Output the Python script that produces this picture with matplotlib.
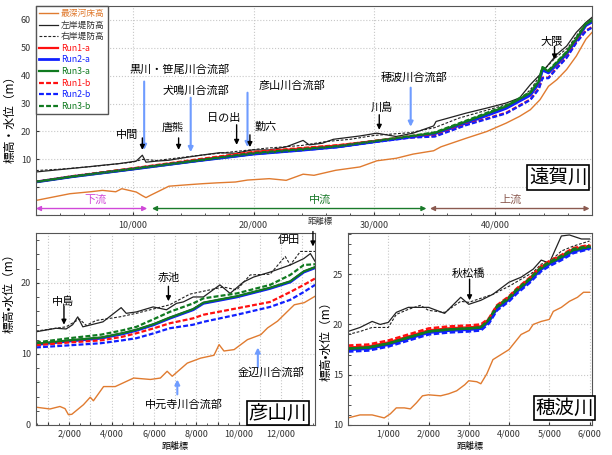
import matplotlib
matplotlib.use("Agg")
import matplotlib.pyplot as plt
from matplotlib.ticker import FuncFormatter, MultipleLocator, FixedLocator

plt.rcParams['font.family'] = ['Noto Sans CJK JP', 'DejaVu Sans']

# ---- 遠賀川 (top) ----
onga_bed_km = [2.0, 3.4, 4.8, 6.5, 7.5, 8.6, 9.1, 10.3, 10.8, 11.1, 11.5, 12.3, 13.0, 14.5, 15.8, 17.0,
               18.5, 19.5, 21.3, 22.7, 24.1, 25.0, 26.8, 28.8, 30.2, 31.8, 33.2, 34.9, 35.5, 37.6,
               39.3, 40.9, 42.0, 42.9, 43.7, 44.4, 45.1, 45.9, 46.7, 47.5, 48.0]
onga_bed = [-4.7, -3.5, -2.3, -1.6, -1.1, -1.6, -0.5, -1.7, -3.0, -3.7, -2.8, -1.1, 0.4, 0.9, 1.3, 1.6,
            1.9, 2.6, 3.1, 2.5, 4.7, 4.3, 6.1, 7.3, 9.5, 10.4, 11.9, 13.1, 14.5, 17.6,
            20.0, 23.0, 25.4, 27.8, 31.4, 36.2, 38.6, 42.2, 47.0, 53.1, 55.5]
onga_left_km = [2.0, 3.4, 4.8, 6.2, 7.5, 8.9, 10.3, 10.8, 11.1, 12.0, 13.0, 14.4, 15.8, 17.2, 18.5, 19.9,
                21.3, 22.7, 24.1, 24.6, 25.7, 26.6, 28.8, 30.2, 31.8, 33.2, 34.9, 35.1, 37.6, 39.3,
                40.9, 42.0, 42.9, 43.7, 44.4, 45.1, 45.9, 46.7, 47.5, 48.0]
onga_left = [5.5, 6.1, 6.7, 7.3, 7.9, 8.5, 9.4, 11.5, 9.0, 9.4, 9.7, 10.7, 11.6, 12.4, 12.2, 13.4,
             13.4, 14.5, 16.8, 15.2, 15.8, 17.2, 18.4, 19.4, 18.2, 19.4, 22.0, 23.6, 26.6, 28.4,
             30.2, 32.0, 36.8, 40.4, 44.0, 47.7, 50.6, 55.5, 59.1, 60.9]
onga_right_km = [2.0, 4.0, 7.0, 10.0, 10.8, 12.0, 15.0, 18.0, 21.0, 24.0, 26.0, 28.0, 30.0, 33.0, 35.0,
                 37.0, 40.0, 42.0, 43.0, 44.0, 45.0, 46.0, 47.0, 48.0]
onga_right = [6.0, 6.5, 7.6, 9.0, 10.0, 9.6, 11.2, 12.6, 14.0, 15.0, 16.4, 17.2, 18.6, 19.6, 21.4,
              24.8, 28.5, 31.0, 35.5, 42.0, 46.5, 50.0, 56.0, 60.5]
onga_run_km = [2, 5, 10, 15, 20, 24, 27, 30, 33, 35, 37.6, 40.9, 42.9, 43.6, 43.9, 44.4, 45.1, 45.9, 46.7, 47.5, 48]
onga_run1a = [2.0, 3.9, 6.7, 9.6, 12.5, 13.9, 15.0, 16.6, 18.3, 19.3, 23.2, 28.5, 33.3, 37.5, 42.3, 41.2, 44.3, 48.0, 52.8, 58.2, 59.4]
onga_run2a = [1.9, 3.8, 6.5, 9.3, 11.9, 13.3, 14.5, 16.3, 18.0, 19.2, 23.0, 28.3, 33.0, 37.2, 42.0, 41.0, 44.0, 47.8, 52.6, 58.0, 59.2]
onga_run3a = [1.9, 3.8, 6.5, 9.3, 12.0, 13.4, 14.6, 16.4, 18.2, 19.5, 23.6, 29.0, 33.8, 38.0, 42.8, 41.6, 44.7, 48.3, 53.1, 58.5, 59.7]
onga_run1b = [2.0, 4.0, 6.8, 9.8, 12.7, 14.1, 15.1, 16.6, 17.9, 18.4, 22.5, 26.7, 31.5, 35.5, 39.3, 39.3, 42.9, 46.6, 52.0, 56.2, 57.4]
onga_run2b = [1.9, 3.8, 6.5, 9.3, 11.9, 13.3, 14.4, 16.2, 17.8, 18.2, 22.3, 26.5, 31.3, 35.2, 39.1, 39.1, 42.7, 46.4, 51.8, 56.0, 57.2]
onga_run3b = [2.0, 3.9, 6.7, 9.5, 12.3, 13.7, 14.8, 16.6, 18.4, 19.7, 23.9, 29.3, 34.1, 38.3, 43.1, 41.9, 45.0, 48.6, 53.4, 58.8, 60.0]

onga_labels = ["中間", "唐熊", "日の出", "勤六", "川島", "大隈"]
onga_label_x = [10.8, 13.8, 18.6, 19.7, 30.4, 44.9]
onga_confl = ["黒川・笹尾川合流部", "犬鳴川合流部", "彦山川合流部", "穂波川合流部"]
onga_confl_x = [10.95, 14.8, 19.5, 33.0]

# ---- 彦山川 (bottom left) ----
hiko_bed_km = [0.43, 1.09, 1.56, 1.80, 1.96, 2.12, 2.67, 2.99, 3.14, 3.62, 4.17, 5.04, 5.83, 6.30, 6.62,
               6.86, 7.57, 8.20, 8.83, 9.07, 9.30, 9.78, 10.41, 11.04, 11.36, 11.83, 12.31, 12.62, 13.09, 13.6]
hiko_bed = [2.5, 2.25, 2.6, 2.3, 1.45, 1.5, 2.85, 3.9, 3.4, 5.4, 5.4, 6.6, 6.4, 6.6, 7.55,
            6.85, 8.7, 9.4, 9.8, 11.3, 10.4, 10.6, 12.0, 12.7, 13.65, 14.6, 16.0, 16.9, 17.2, 18.1]
hiko_left_km = [0.43, 1.37, 1.85, 2.16, 2.40, 2.64, 3.59, 4.45, 4.69, 5.17, 5.96, 6.59, 7.06, 7.38, 7.85,
                8.33, 9.11, 9.59, 10.22, 10.70, 11.48, 12.43, 13.07, 13.38, 13.6]
hiko_left = [13.1, 13.6, 13.5, 14.1, 15.2, 13.8, 14.5, 16.5, 15.7, 15.9, 16.6, 16.2, 17.1, 17.3, 18.0,
             18.0, 19.7, 18.5, 20.1, 20.8, 21.5, 22.5, 23.4, 24.1, 23.0]
hiko_right_km = [0.43, 1.85, 2.48, 2.8, 3.27, 4.38, 5.17, 6.74, 7.69, 9.27, 9.91, 10.54, 11.48, 12.19,
                 12.43, 12.91, 13.6]
hiko_right = [13.2, 13.8, 14.9, 14.0, 14.7, 15.2, 15.7, 16.9, 18.4, 19.4, 19.0, 21.1, 21.2, 23.7,
              22.5, 24.4, 24.4]
hiko_run_km = [0.43, 2.0, 3.5, 4.5, 5.17, 6.0, 6.74, 7.85, 8.33, 9.91, 11.48, 12.43, 13.07, 13.6]
hiko_run1a = [11.35, 11.85, 12.25, 12.85, 13.35, 14.15, 15.05, 16.25, 17.15, 18.05, 19.25, 20.15, 21.55, 22.15]
hiko_run2a = [11.3, 11.8, 12.2, 12.8, 13.3, 14.1, 15.0, 16.2, 17.1, 18.0, 19.2, 20.1, 21.5, 22.1]
hiko_run3a = [11.4, 11.9, 12.3, 12.9, 13.4, 14.2, 15.1, 16.3, 17.2, 18.1, 19.3, 20.2, 21.6, 22.2]
hiko_run1b = [11.2, 11.6, 11.9, 12.4, 12.9, 13.6, 14.3, 15.0, 15.5, 16.4, 17.3, 18.7, 19.7, 20.6]
hiko_run2b = [10.9, 11.2, 11.5, 11.9, 12.2, 12.9, 13.6, 14.1, 14.5, 15.5, 16.6, 17.6, 18.7, 19.7]
hiko_run3b = [11.6, 12.2, 12.7, 13.3, 13.8, 14.9, 15.9, 17.1, 17.8, 18.5, 19.7, 21.1, 22.5, 22.6]

# ---- 穂波川 (bottom right) ----
honami_bed_km = [0, 0.3, 0.6, 0.9, 1.05, 1.2, 1.4, 1.55, 1.7, 1.85, 2.0, 2.3, 2.5, 2.7, 2.9, 3.0, 3.2, 3.3,
                 3.45, 3.6, 3.8, 4.0, 4.1, 4.3, 4.5, 4.6, 4.8, 5.0, 5.1, 5.3, 5.5, 5.7, 5.85, 6.0]
honami_bed = [10.7, 11.0, 11.0, 10.7, 11.1, 11.7, 11.7, 11.6, 12.2, 12.9, 13.0, 12.9, 13.1, 13.4, 14.0, 14.4,
              14.3, 14.1, 15.1, 16.5, 17.0, 17.5, 18.0, 19.0, 19.4, 20.0, 20.3, 20.5, 21.3, 21.7, 22.3,
              22.7, 23.2, 23.2]
honami_left_km = [0, 0.3, 0.6, 0.8, 1.0, 1.2, 1.5, 2.0, 2.4, 2.8, 3.0, 3.3, 3.6, 4.0, 4.3, 4.6, 4.8, 5.0,
                  5.3, 5.5, 5.8, 6.0]
honami_left = [19.3, 19.7, 20.3, 20.0, 20.2, 21.2, 21.7, 21.7, 21.1, 22.7, 22.0, 22.4, 23.0, 24.2, 24.7,
               25.5, 26.4, 26.1, 28.8, 28.9, 28.5, 28.5]
honami_right_km = [0, 0.3, 0.6, 1.0, 1.2, 1.5, 1.8, 2.0, 2.4, 2.8, 3.0, 3.6, 4.0, 4.3, 4.6, 4.8, 5.0, 5.3,
                   5.6, 6.0]
honami_right = [19.0, 19.3, 19.7, 19.7, 21.0, 21.5, 21.9, 21.4, 21.2, 22.3, 22.2, 23.0, 23.8, 24.5, 25.2,
                26.0, 26.2, 27.3, 27.8, 28.3]
honami_run_km = [0, 0.5, 1.0, 1.5, 2.0, 2.5, 3.0, 3.3, 3.5, 3.7, 4.0, 4.2, 4.5, 4.8, 5.0, 5.3, 5.6, 6.0]
honami_run1a = [17.7, 17.8, 18.2, 18.8, 19.4, 19.6, 19.7, 19.8, 20.5, 21.8, 22.7, 23.5, 24.5, 25.7, 26.2, 26.8, 27.5, 27.8]
honami_run2a = [17.5, 17.6, 18.0, 18.6, 19.2, 19.4, 19.5, 19.6, 20.3, 21.6, 22.5, 23.3, 24.3, 25.5, 26.0, 26.6, 27.3, 27.6]
honami_run3a = [17.6, 17.7, 18.1, 18.7, 19.3, 19.5, 19.6, 19.7, 20.4, 21.7, 22.6, 23.4, 24.4, 25.6, 26.1, 26.7, 27.4, 27.7]
honami_run1b = [17.9, 18.0, 18.4, 19.0, 19.6, 19.8, 19.9, 20.0, 20.6, 21.9, 22.8, 23.6, 24.6, 25.8, 26.3, 26.9, 27.6, 27.9]
honami_run2b = [17.3, 17.4, 17.8, 18.4, 19.0, 19.2, 19.3, 19.4, 20.1, 21.4, 22.3, 23.1, 24.1, 25.3, 25.8, 26.4, 27.1, 27.5]
honami_run3b = [17.6, 17.7, 18.1, 18.7, 19.3, 19.5, 19.6, 19.7, 20.5, 21.8, 22.7, 23.5, 24.5, 25.7, 26.2, 26.8, 27.5, 27.8]

ORANGE = "#e07b30"
RED = "#ff1010"
BLUE = "#1020ff"
GREEN = "#107a20"
ARROW_BLUE = "#6f9cff"
DASH = (0, (2.2, 1.0))

fig = plt.figure(figsize=(6.12, 4.55), dpi=100)
ax_top = fig.add_axes([0.0588, 0.527, 0.9085, 0.46])
ax_l = fig.add_axes([0.0588, 0.066, 0.456, 0.422])
ax_r = fig.add_axes([0.5686, 0.066, 0.398, 0.422])


def draw_river(ax, bed_km, bed, lk, lv, rk, rv, run_km, r1a, r2a, r3a, r1b, r2b, r3b, run_lw=1.6):
    ax.plot(bed_km, bed, color=ORANGE, lw=1.0, label="最深河床高")
    ax.plot(lk, lv, color="#222222", lw=0.9, label="左岸堤防高")
    ax.plot(rk, rv, color="#222222", lw=0.8, ls=(0, (2.5, 1.5)), label="右岸堤防高")
    ax.plot(run_km, r1a, color=RED, lw=run_lw, label="Run1-a")
    ax.plot(run_km, r2a, color=BLUE, lw=run_lw + 0.4, label="Run2-a")
    ax.plot(run_km, r3a, color=GREEN, lw=run_lw, label="Run3-a")
    ax.plot(run_km, r1b, color=RED, lw=run_lw, ls=DASH, label="Run1-b")
    ax.plot(run_km, r2b, color=BLUE, lw=run_lw, ls=DASH, label="Run2-b")
    ax.plot(run_km, r3b, color=GREEN, lw=run_lw, ls=DASH, label="Run3-b")


def style_axes(ax):
    for s in ax.spines.values():
        s.set_color("#555555")
        s.set_linewidth(0.8)
    ax.grid(True, which="major", color="#c8c8c8", ls=":", lw=0.8)
    ax.tick_params(which="both", direction="in", labelsize=6.5, colors="#333333", length=2.5)
    ax.tick_params(which="minor", length=1.8)
    ax.xaxis.set_major_formatter(FuncFormatter(lambda v, p: f"{int(round(v))}/000"))


def arrow(ax, x, y0, y1, color="black", lw=1.0):
    ax.annotate("", xy=(x, y1), xytext=(x, y0), annotation_clip=False,
                arrowprops=dict(arrowstyle="-|>", color=color, lw=lw, mutation_scale=7,
                                shrinkA=0, shrinkB=0))


def title_box(ax, x, y, s):
    ax.text(x, y, s, fontsize=14, ha="center", va="center", zorder=10,
            bbox=dict(boxstyle="square,pad=0.08", fc="white", ec="black", lw=1.2))


# top panel
draw_river(ax_top, onga_bed_km, onga_bed, onga_left_km, onga_left, onga_right_km, onga_right,
           onga_run_km, onga_run1a, onga_run2a, onga_run3a, onga_run1b, onga_run2b, onga_run3b)
ax_top.set_xlim(2.0, 48.0)
ax_top.set_ylim(-10, 65)
style_axes(ax_top)
ax_top.xaxis.set_major_locator(FixedLocator([10, 20, 30, 40]))
ax_top.xaxis.set_minor_locator(MultipleLocator(2))
ax_top.yaxis.set_major_locator(MultipleLocator(10))
ax_top.yaxis.set_major_formatter(FuncFormatter(lambda v, p: f"{int(v)}" if v >= 10 else ""))
ax_top.set_ylabel("標高・水位（m）", fontsize=8.5)
ax_top.yaxis.set_label_coords(-0.035, 0.47)

leg = ax_top.legend(loc="upper left", fontsize=6.3, handlelength=2.2, borderaxespad=0.0,
                    labelspacing=0.3, borderpad=0.35, fancybox=False, framealpha=1,
                    edgecolor="#555555", handletextpad=0.3)
leg_colors = [ORANGE, "#333333", "#333333", RED, BLUE, GREEN, RED, BLUE, GREEN]
for t, c in zip(leg.get_texts(), leg_colors):
    t.set_color(c)

onga_label_xy = [(9.55, 18.8), (13.3, 21.3), (17.5, 24.9), (21.0, 21.7), (30.6, 28.5), (44.7, 52.0)]
onga_label_arrow = [(17.7, 13.4), (17.7, 13.4), (22.4, 15.2), (18.8, 14.4), (26.0, 20.6), (50.5, 45.8)]
onga_confl_xy = [(13.9, 42.2), (15.2, 34.7), (23.2, 36.5), (33.3, 39.4)]
onga_confl_arrow = [(37.9, 13.4), (32.1, 12.6), (33.9, 14.4), (35.7, 21.7)]
for s, x, (y0, y1) in zip(onga_confl, onga_confl_x, onga_confl_arrow):
    arrow(ax_top, x, y0, y1, ARROW_BLUE, 1.5)
for s, (tx, ty) in zip(onga_confl, onga_confl_xy):
    ax_top.text(tx, ty, s, fontsize=8, ha="center", va="center")
for s, x, (tx, ty), (y0, y1) in zip(onga_labels, onga_label_x, onga_label_xy, onga_label_arrow):
    arrow(ax_top, x, y0, y1)
    ax_top.text(tx, ty, s, fontsize=8, ha="center", va="center")

# reach arrows
reach_names = ["下流", "中流", "上流"]
reach_start = [2.0, 11.6, 34.6]
reach_end = [11.2, 34.3, 47.8]
reach_label_x = [6.9, 25.5, 41.3]
reach_colors = ["#d048d8", "#1a7a2a", "#8b5a50"]
for s, a, b, lx, c in zip(reach_names, reach_start, reach_end, reach_label_x, reach_colors):
    ax_top.annotate("", xy=(b, -7.6), xytext=(a, -7.6),
                    arrowprops=dict(arrowstyle="<|-|>", color=c, lw=1.0, mutation_scale=7,
                                    shrinkA=0, shrinkB=0))
    ax_top.text(lx, -4.6, s, color=c, fontsize=8, ha="center", va="center")
title_box(ax_top, 45.2, 3.5, "遠賀川")
fig.text(0.523, 0.513, "距離標", fontsize=6, ha="center", va="center", color="#333333")

# bottom left panel
draw_river(ax_l, hiko_bed_km, hiko_bed, hiko_left_km, hiko_left, hiko_right_km, hiko_right,
           hiko_run_km, hiko_run1a, hiko_run2a, hiko_run3a, hiko_run1b, hiko_run2b, hiko_run3b)
ax_l.set_xlim(0.43, 13.6)
ax_l.set_ylim(0, 27)
style_axes(ax_l)
ax_l.xaxis.set_major_locator(MultipleLocator(1))
ax_l.xaxis.set_major_formatter(FuncFormatter(lambda v, p: f"{int(round(v))}/000" if int(round(v)) % 2 == 0 else ""))
ax_l.xaxis.set_minor_locator(MultipleLocator(0.5))
ax_l.yaxis.set_major_locator(MultipleLocator(10))
ax_l.yaxis.set_minor_locator(MultipleLocator(2))
ax_l.set_ylabel("標高•水位（m）", fontsize=8.5)
ax_l.yaxis.set_label_coords(-0.075, 0.7)
ax_l.set_xlabel("距離標", fontsize=6.5, labelpad=2)

hiko_labels = ["中島", "赤池", "伊田"]
hiko_label_x = [1.75, 6.68, 13.5]
hiko_label_xy = [(1.71, 17.4), (6.68, 20.7), (12.37, 26.1)]
hiko_label_arrow = [(16.7, 14.1), (19.5, 17.4), (27.2, 25.1)]
for s, x, (tx, ty), (y0, y1) in zip(hiko_labels, hiko_label_x, hiko_label_xy, hiko_label_arrow):
    arrow(ax_l, x, y0, y1)
    ax_l.text(tx, ty, s, fontsize=8, ha="center", va="center")
hiko_confl = ["中元寺川合流部", "金辺川合流部"]
hiko_confl_x = [7.1, 10.9]
hiko_confl_xy = [(7.39, 2.9), (11.5, 7.4)]
hiko_confl_arrow = [(4.3, 6.4), (8.1, 10.9)]
for s, x, (tx, ty), (y0, y1) in zip(hiko_confl, hiko_confl_x, hiko_confl_xy, hiko_confl_arrow):
    arrow(ax_l, x, y0, y1, ARROW_BLUE, 1.5)
    ax_l.text(tx, ty, s, fontsize=8, ha="center", va="center")
title_box(ax_l, 11.85, 1.65, "彦山川")

# bottom right panel
draw_river(ax_r, honami_bed_km, honami_bed, honami_left_km, honami_left, honami_right_km, honami_right,
           honami_run_km, honami_run1a, honami_run2a, honami_run3a, honami_run1b, honami_run2b, honami_run3b,
           run_lw=1.8)
ax_r.set_xlim(0, 6.05)
ax_r.set_ylim(10, 29.1)
style_axes(ax_r)
ax_r.xaxis.set_major_locator(FixedLocator([1, 2, 3, 4, 5, 6]))
ax_r.yaxis.set_major_locator(MultipleLocator(5))
ax_r.yaxis.set_minor_locator(MultipleLocator(1))
ax_r.set_ylabel("標高•水位（m）", fontsize=8.5)
ax_r.yaxis.set_label_coords(-0.065, 0.45)
ax_r.set_xlabel("距離標", fontsize=6.5, labelpad=2)
arrow(ax_r, 3.02, 24.5, 22.4)
ax_r.text(3.0, 25.0, "秋松橋", fontsize=8, ha="center", va="center")
title_box(ax_r, 5.38, 11.7, "穂波川")

fig.savefig("out.png", dpi=100)
